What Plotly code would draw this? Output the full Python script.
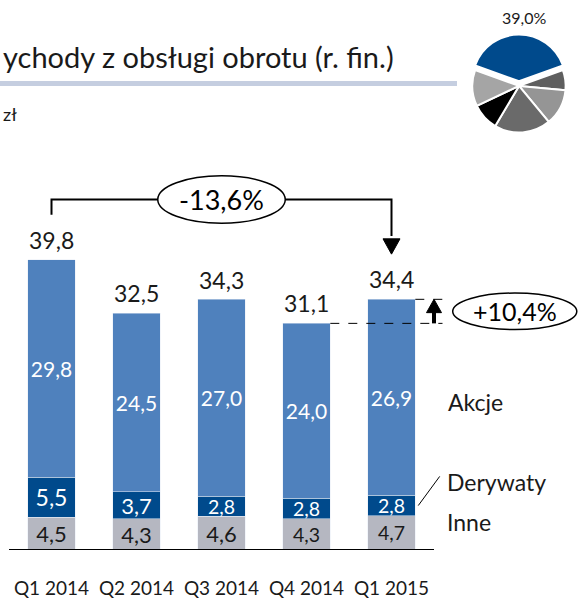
import plotly.graph_objects as go

# Data (mln zł)
quarters = ["Q1 2014", "Q2 2014", "Q3 2014", "Q4 2014", "Q1 2015"]
inne = [4.5, 4.3, 4.6, 4.3, 4.7]
derywaty = [5.5, 3.7, 2.8, 2.8, 2.8]
akcje = [29.8, 24.5, 27.0, 24.0, 26.9]
totals = [39.8, 32.5, 34.3, 31.1, 34.4]
change_yoy = "-13,6%"
change_qoq = "+10,4%"

pie_values = [39.0, 7.0, 12.5, 19.5, 9.5, 12.5]
pie_colors = ["#004a8c", "#5f5f5f", "#959595", "#6a6a6a", "#000000", "#a5a5a5"]
pie_label = "39,0%"

# the reference slide is cropped on the left, only these parts are visible
title_text = "ychody z obsługi obrotu (r. fin.)"
unit_text = "zł"

FONT = "Lato"
W, H = 578, 599
MB = 42
PH = H - MB
PX_PER_UNIT = 7.38
BAR_W = 0.56


def fmt(v):
    return f"{v:.1f}".replace(".", ",")


def px(x):
    return x / W


def py(y):
    return 1 - y / PH


xs = list(range(len(quarters)))

fig = go.Figure()

fig.add_trace(go.Bar(
    x=xs, y=inne, width=BAR_W, marker_color="#b5b7c1",
    text=[fmt(v) for v in inne], textposition="inside", insidetextanchor="middle",
    textangle=0, constraintext="none",
    textfont=dict(family=FONT, color="#1a1a1a", size=[22, 22, 22, 19.5, 19.5]),
    showlegend=False, hoverinfo="skip",
))
fig.add_trace(go.Bar(
    x=xs, y=derywaty, width=BAR_W, marker_color="#004a8c",
    text=[fmt(v) for v in derywaty], textposition="inside", insidetextanchor="middle",
    textangle=0, constraintext="none",
    textfont=dict(family=FONT, color="white", size=[23, 22, 19.5, 19.5, 19.5]),
    showlegend=False, hoverinfo="skip",
))
fig.add_trace(go.Bar(
    x=xs, y=akcje, width=BAR_W, marker_color="#4f81bd",
    text=[fmt(v) for v in akcje], textposition="inside", insidetextanchor="middle",
    textangle=0, constraintext="none",
    textfont=dict(family=FONT, color="white", size=21),
    showlegend=False, hoverinfo="skip",
))

fig.add_trace(go.Pie(
    values=pie_values, marker=dict(colors=pie_colors, line=dict(color="white", width=2)),
    sort=False, direction="clockwise", rotation=-pie_values[0] * 3.6 / 2,
    pull=[0.1, 0, 0, 0, 0, 0], textinfo="none", hoverinfo="skip", showlegend=False,
    domain=dict(x=[px(467), px(571)], y=[py(139), py(35)]),
))

shapes = []
line_k = dict(color="black", width=2)
unit = 1 / PX_PER_UNIT

# baseline
shapes.append(dict(type="line", xref="x", yref="y", x0=-0.5, x1=len(xs) - 0.5,
                   y0=0, y1=0, line=dict(color="black", width=2)))

# -13,6% bracket between first and last bar
lvl = max(totals) + 8.3
gap = 6.2
mid = (xs[0] + xs[-1]) / 2
shapes.append(dict(type="path", xref="x", yref="y",
                   path=f"M {xs[0]},{totals[0] + gap} L {xs[0]},{lvl} L {xs[-1]},{lvl} "
                        f"L {xs[-1]},{totals[-1] + gap + 2.5}",
                   line=line_k))
hw = 8.5 / 85
shapes.append(dict(type="path", xref="x", yref="y",
                   path=f"M {xs[-1] - hw},{totals[-1] + gap + 2.1} L {xs[-1] + hw},{totals[-1] + gap + 2.1} "
                        f"L {xs[-1]},{totals[-1] + gap} Z",
                   fillcolor="black", line=dict(color="black", width=1)))
shapes.append(dict(type="circle", xref="x", yref="y",
                   x0=mid - 0.75, x1=mid + 0.75, y0=lvl - 24 * unit, y1=lvl + 24 * unit,
                   fillcolor="white", line=dict(color="black", width=1.5)))

# +10,4% marker between the last two bars
xa = xs[-1] + 0.5
shapes.append(dict(type="line", xref="x", yref="y", x0=xs[-2] + BAR_W / 2, x1=xs[-1] + 0.6,
                   y0=totals[-2], y1=totals[-2], line=dict(color="black", width=1, dash="dash")))
shapes.append(dict(type="line", xref="x", yref="y", x0=xs[-1] + BAR_W / 2, x1=xs[-1] + 0.6,
                   y0=totals[-1], y1=totals[-1], line=dict(color="black", width=1, dash="dash")))
shapes.append(dict(type="line", xref="x", yref="y", x0=xa, x1=xa,
                   y0=totals[-2], y1=totals[-1] - 13 * unit, line=dict(color="black", width=4)))
hw2 = 7.5 / 85
shapes.append(dict(type="path", xref="x", yref="y",
                   path=f"M {xa - hw2},{totals[-1] - 13.5 * unit} L {xa + hw2},{totals[-1] - 13.5 * unit} "
                        f"L {xa},{totals[-1]} Z",
                   fillcolor="black", line=dict(color="black", width=1)))
cy2 = (totals[-2] + totals[-1]) / 2
shapes.append(dict(type="circle", xref="x", yref="y",
                   x0=5.45 - 0.73, x1=5.45 + 0.73, y0=cy2 - 18.5 * unit, y1=cy2 + 18.5 * unit,
                   fillcolor="white", line=dict(color="black", width=1.5)))

# leader line to "Derywaty"
shapes.append(dict(type="line", xref="x", yref="y",
                   x0=xs[-1] + 0.315, y0=inne[-1] + derywaty[-1] / 2, x1=xs[-1] + 0.567, y1=10.1,
                   line=dict(color="black", width=1)))

# title underline
shapes.append(dict(type="rect", xref="paper", yref="paper", x0=0, x1=px(457),
                   y0=py(87), y1=py(82), fillcolor="#c5cee0", line=dict(width=0)))

annotations = [
    dict(text=title_text, xref="paper", yref="paper",
         x=px(1), y=py(57), xanchor="left", yanchor="middle", showarrow=False,
         font=dict(family=FONT, size=29, color="#1a1a1a")),
    dict(text=unit_text, xref="paper", yref="paper", x=px(1), y=py(115),
         xanchor="left", yanchor="middle", showarrow=False,
         font=dict(family=FONT, size=18, color="#1a1a1a")),
    dict(text=pie_label, xref="paper", yref="paper", x=px(524), y=py(18),
         xanchor="center", yanchor="middle", showarrow=False,
         font=dict(family=FONT, size=16, color="#1a1a1a")),
    dict(text=change_yoy, xref="x", yref="y", x=mid, y=lvl, showarrow=False,
         font=dict(family=FONT, size=27, color="black")),
    dict(text=change_qoq, xref="x", yref="y", x=5.45, y=cy2, showarrow=False,
         font=dict(family=FONT, size=25, color="black")),
    dict(text="Akcje", xref="x", yref="y", x=4.64, y=20.3, xanchor="left",
         showarrow=False, font=dict(family=FONT, size=23, color="#1a1a1a")),
    dict(text="Derywaty", xref="x", yref="y", x=4.63, y=9.4, xanchor="left",
         showarrow=False, font=dict(family=FONT, size=23, color="#1a1a1a")),
    dict(text="Inne", xref="x", yref="y", x=4.63, y=3.8, xanchor="left",
         showarrow=False, font=dict(family=FONT, size=23, color="#1a1a1a")),
]

# bar totals above each stack
for x, t in zip(xs, totals):
    annotations.append(dict(text=fmt(t), xref="x", yref="y", x=x, y=t, yanchor="bottom",
                            yshift=4, showarrow=False,
                            font=dict(family=FONT, size=23, color="#1a1a1a")))

fig.update_layout(
    width=W, height=H, barmode="stack",
    margin=dict(l=0, r=0, t=0, b=MB),
    paper_bgcolor="white", plot_bgcolor="white",
    shapes=shapes, annotations=annotations,
    xaxis=dict(range=[-0.5 - 9 / 85, -0.5 - 9 / 85 + W / 85], tickvals=xs, ticktext=quarters,
               showgrid=False, zeroline=False, showline=False, ticks="",
               tickfont=dict(family=FONT, size=19, color="#1a1a1a"), ticklabelstandoff=25),
    yaxis=dict(range=[0, PH / PX_PER_UNIT], visible=False, showgrid=False, zeroline=False),
)

# the page body has a default 8px margin; drop it so the figure sits at the top-left corner
fig.write_html("out.html", config={"displayModeBar": False},
               post_script="document.body.style.margin='0px';")
